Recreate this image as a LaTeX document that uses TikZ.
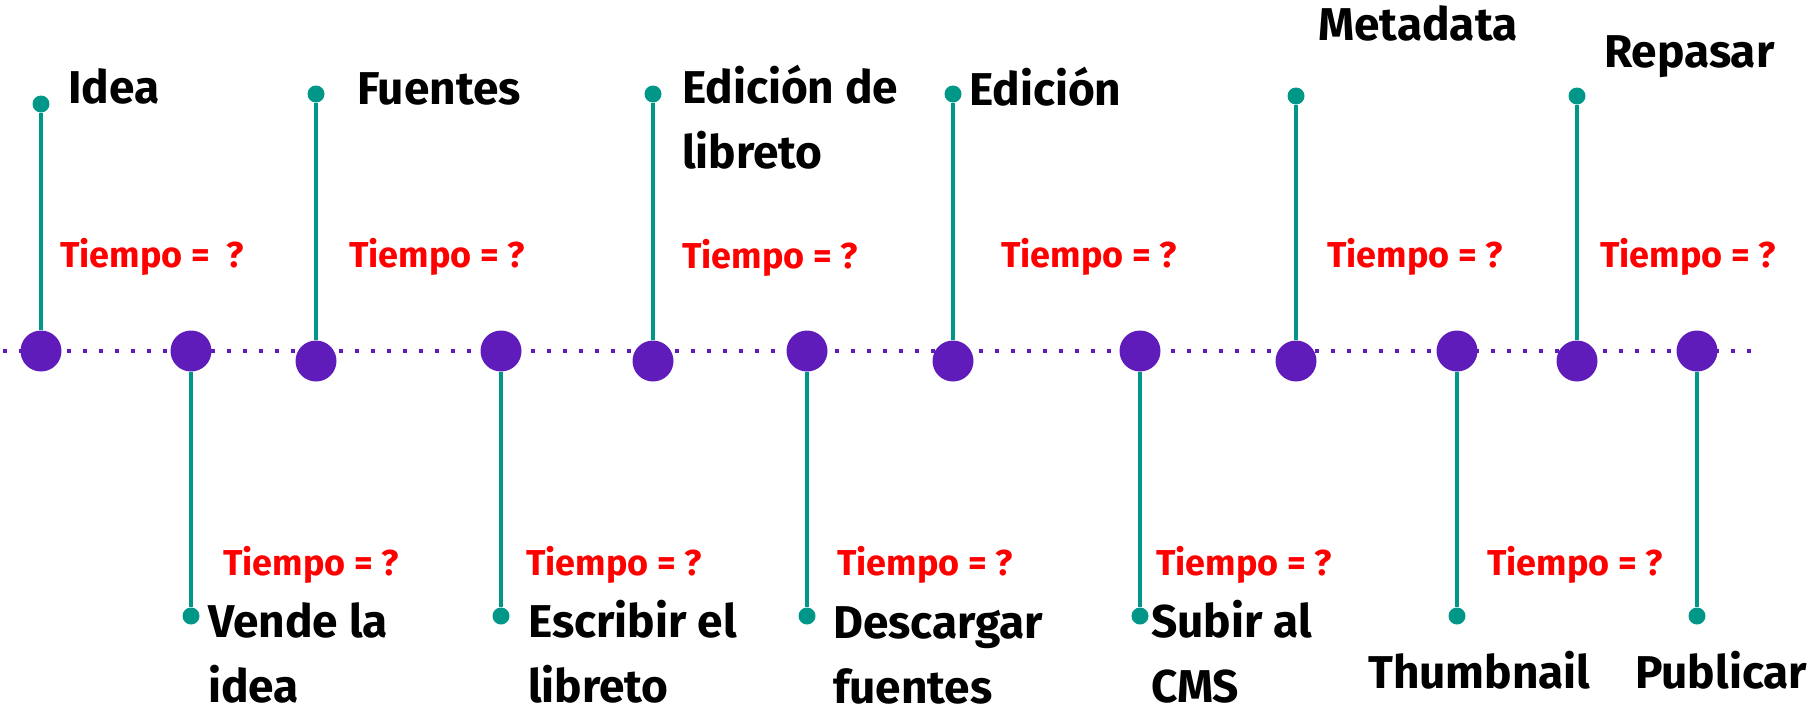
\documentclass[tikz,border=0pt]{standalone}
\usepackage{fontspec}
\setmainfont{Fira Sans}
\usepackage{tikz}
\definecolor{morado}{HTML}{5F1CBA}
\definecolor{verde}{HTML}{009688}
\definecolor{rojo}{HTML}{FF0000}
\tikzset{
  hito/.style={circle, fill=morado, inner sep=0pt, minimum size=41pt},
  punta/.style={circle, fill=verde, inner sep=0pt, minimum size=17pt},
  palo/.style={draw=verde, line width=4pt},
  etiqueta/.style={anchor=base west, inner sep=0pt, align=left, font=\bfseries\fontsize{46}{65}\selectfont},
  tiempo/.style={anchor=base west, inner sep=0pt, text=rojo, font=\bfseries\fontsize{36}{40}\selectfont}
}

\begin{document}
\begin{tikzpicture}[x=1pt, y=-1pt]
        \useasboundingbox (0,0) rectangle (1813,710);
        \draw[morado, line width=4pt, dash pattern=on 4pt off 12pt] (3,351) coordinate (ini) -- (1755,351) coordinate (fin);
        % hitos de la linea
        \node[hito] (h1) at (41,351) {};
        \node[hito] (h2) at (191,351) {};
        \node[hito] (h3) at (316,361) {};
        \node[hito] (h4) at (501,351) {};
        \node[hito] (h5) at (653,361) {};
        \node[hito] (h6) at (807,351) {};
        \node[hito] (h7) at (953,361) {};
        \node[hito] (h8) at (1140,351) {};
        \node[hito] (h9) at (1296,361) {};
        \node[hito] (h10) at (1457,351) {};
        \node[hito] (h11) at (1577,361) {};
        \node[hito] (h12) at (1697,351) {};
        % puntas
        \node[punta] (p1) at (41,104) {};
        \node[punta] (p2) at (191,616) {};
        \node[punta] (p3) at (316,94) {};
        \node[punta] (p4) at (501,616) {};
        \node[punta] (p5) at (653,94) {};
        \node[punta] (p6) at (807,616) {};
        \node[punta] (p7) at (953,94) {};
        \node[punta] (p8) at (1140,616) {};
        \node[punta] (p9) at (1296,96) {};
        \node[punta] (p10) at (1457,616) {};
        \node[punta] (p11) at (1577,96) {};
        \node[punta] (p12) at (1697,616) {};
        \draw[palo] (h1) -- (p1);
        \draw[palo] (h2) -- (p2);
        \draw[palo] (h3) -- (p3);
        \draw[palo] (h4) -- (p4);
        \draw[palo] (h5) -- (p5);
        \draw[palo] (h6) -- (p6);
        \draw[palo] (h7) -- (p7);
        \draw[palo] (h8) -- (p8);
        \draw[palo] (h9) -- (p9);
        \draw[palo] (h10) -- (p10);
        \draw[palo] (h11) -- (p11);
        \draw[palo] (h12) -- (p12);
        % etiquetas de arriba (base = ultima linea)
        \node[etiqueta] (idea) at (68,103) {Idea};
        \node[etiqueta] (fuentes) at (357,104) {Fuentes};
        \node[etiqueta] (edlib) at (682,168) {Edición de\\libreto};
        \node[etiqueta] (edicion) at (969,105) {Edición};
        \node[etiqueta] (meta) at (1318,40) {Metadata};
        \node[etiqueta] (repasar) at (1604,67) {Repasar};
        % etiquetas de abajo
        \node[etiqueta] (vende) at (208,702) {Vende la\\idea};
        \node[etiqueta] (escribir) at (528,702) {Escribir el\\libreto};
        \node[etiqueta] (descargar) at (833,703) {Descargar\\fuentes};
        \node[etiqueta] (subir) at (1151,702) {Subir al\\CMS};
        \node[etiqueta] (thumb) at (1368,688) {Thumbnail};
        \node[etiqueta] (publicar) at (1635,688) {Publicar};
        % tiempos
        \node[tiempo] (t1) at (60,267) {Tiempo = \ ?};
        \node[tiempo] (t2) at (349,267) {Tiempo = ?};
        \node[tiempo] (t3) at (682,268) {Tiempo = ?};
        \node[tiempo] (t4) at (1001,267) {Tiempo = ?};
        \node[tiempo] (t5) at (1327,267) {Tiempo = ?};
        \node[tiempo] (t6) at (1600,267) {Tiempo = ?};
        \node[tiempo] (t7) at (223,575) {Tiempo = ?};
        \node[tiempo] (t8) at (526,575) {Tiempo = ?};
        \node[tiempo] (t9) at (837,575) {Tiempo = ?};
        \node[tiempo] (t10) at (1156,575) {Tiempo = ?};
        \node[tiempo] (t11) at (1487,575) {Tiempo = ?};
    \end{tikzpicture}
\end{document}
